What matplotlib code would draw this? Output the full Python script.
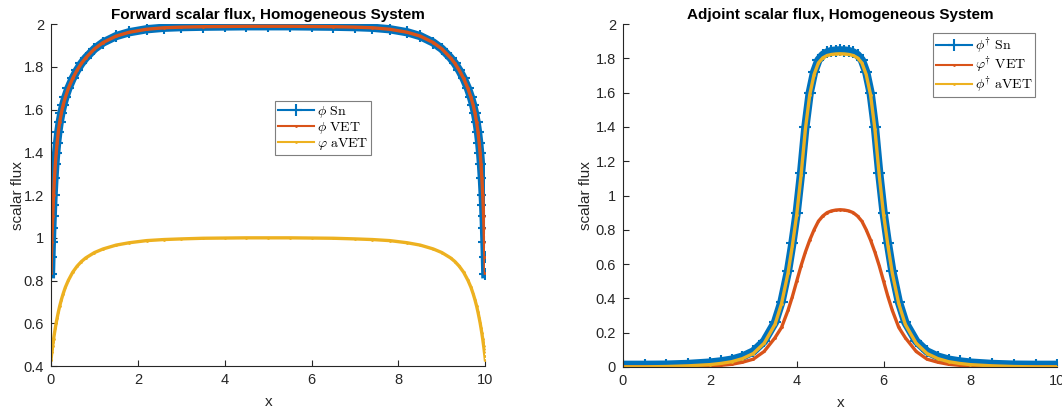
import matplotlib.pyplot as plt

plt.rcParams["font.family"] = ["Liberation Sans", "DejaVu Sans"]
plt.rcParams["mathtext.fontset"] = "cm"

# colours (MATLAB default order)
BLUE = "#0072BD"
RED = "#D95319"
YELLOW = "#EDB120"
AX_COL = "#262626"

# ---- forward problem -------------------------------------------------------
x_fwd = [0, 0.01, 0.02, 0.03, 0.04, 0.05, 0.06, 0.08, 0.1, 0.12, 0.14, 0.17,
         0.2, 0.24, 0.28, 0.33, 0.4, 0.5, 0.6, 0.7, 0.8, 1.0, 1.2, 1.5, 1.8,
         2.2, 2.6, 3.0, 3.5, 4.0, 4.5, 5.0, 5.5, 6.0, 6.5, 7.0, 7.4, 7.8, 8.2,
         8.5, 8.8, 9.0, 9.2, 9.3, 9.4, 9.5, 9.6, 9.67, 9.72, 9.76, 9.8, 9.83,
         9.86, 9.88, 9.9, 9.92, 9.94, 9.95, 9.96, 9.97, 9.98, 9.99, 10]
phi_sn = [0.83, 0.91, 0.981, 1.045, 1.102, 1.154, 1.200, 1.279, 1.344, 1.398,
          1.442, 1.497, 1.540, 1.585, 1.621, 1.657, 1.699, 1.746, 1.784, 1.816,
          1.842, 1.884, 1.914, 1.944, 1.962, 1.976, 1.983, 1.986, 1.988, 1.989,
          1.990, 1.990, 1.990, 1.989, 1.988, 1.986, 1.983, 1.976, 1.962, 1.944,
          1.914, 1.884, 1.842, 1.816, 1.784, 1.746, 1.699, 1.657, 1.621, 1.585,
          1.540, 1.497, 1.442, 1.398, 1.344, 1.279, 1.200, 1.154, 1.102, 1.045,
          0.981, 0.91, 0.83]
phi_vet = [0.835, 0.912, 0.982, 1.046, 1.103, 1.155, 1.200, 1.279, 1.344,
           1.398, 1.442, 1.497, 1.540, 1.585, 1.621, 1.657, 1.699, 1.746,
           1.784, 1.816, 1.842, 1.884, 1.914, 1.944, 1.962, 1.976, 1.983,
           1.986, 1.988, 1.989, 1.990, 1.990, 1.990, 1.989, 1.988, 1.986,
           1.983, 1.976, 1.962, 1.944, 1.914, 1.884, 1.842, 1.816, 1.784,
           1.746, 1.699, 1.657, 1.621, 1.585, 1.540, 1.497, 1.442, 1.398,
           1.344, 1.279, 1.200, 1.155, 1.103, 1.046, 0.982, 0.912, 0.835]
phi_avet = [0.43, 0.448, 0.464, 0.481, 0.496, 0.511, 0.526, 0.553, 0.578,
            0.602, 0.623, 0.653, 0.680, 0.711, 0.738, 0.768, 0.801, 0.839,
            0.867, 0.889, 0.906, 0.931, 0.948, 0.966, 0.977, 0.987, 0.992,
            0.995, 0.998, 0.999, 1.0, 1.0, 1.0, 0.999, 0.998, 0.995, 0.992,
            0.987, 0.977, 0.966, 0.948, 0.931, 0.906, 0.889, 0.867, 0.839,
            0.801, 0.768, 0.738, 0.711, 0.680, 0.653, 0.623, 0.602, 0.578,
            0.553, 0.526, 0.511, 0.496, 0.481, 0.464, 0.448, 0.43]

# ---- adjoint problem -------------------------------------------------------
x_adj = [0, 0.5, 1, 1.5, 2, 2.25, 2.5, 2.75, 3, 3.25, 3.5, 3.65, 3.8, 3.9,
         4.0, 4.1, 4.2, 4.3, 4.4, 4.5, 4.6, 4.7, 4.8, 4.9, 5.0, 5.1, 5.2, 5.3,
         5.4, 5.5, 5.6, 5.7, 5.8, 5.9, 6.0, 6.1, 6.2, 6.35, 6.5, 6.75, 7,
         7.25, 7.5, 7.75, 8, 8.5, 9, 9.5, 10]
adj_sn = [0.012, 0.012, 0.013, 0.017, 0.025, 0.032, 0.042, 0.06, 0.09, 0.15,
          0.26, 0.38, 0.56, 0.72, 0.90, 1.13, 1.40, 1.60, 1.72, 1.79, 1.82,
          1.835, 1.843, 1.846, 1.847, 1.846, 1.843, 1.835, 1.82, 1.79, 1.72,
          1.60, 1.40, 1.13, 0.90, 0.72, 0.56, 0.38, 0.26, 0.15, 0.09, 0.06,
          0.042, 0.032, 0.025, 0.017, 0.013, 0.012, 0.012]
adj_vet = [0.0, 0.0, 0.0005, 0.002, 0.005, 0.009, 0.015, 0.027, 0.045, 0.09,
           0.17, 0.23, 0.33, 0.41, 0.50, 0.59, 0.67, 0.74, 0.80, 0.85, 0.88,
           0.90, 0.91, 0.915, 0.917, 0.915, 0.91, 0.90, 0.88, 0.85, 0.80,
           0.74, 0.67, 0.59, 0.50, 0.41, 0.33, 0.23, 0.17, 0.09, 0.045, 0.027,
           0.015, 0.009, 0.005, 0.002, 0.0005, 0.0, 0.0]
adj_avet = [0.0, 0.0, 0.002, 0.006, 0.013, 0.02, 0.03, 0.048, 0.078, 0.138,
            0.248, 0.368, 0.548, 0.708, 0.888, 1.118, 1.388, 1.588, 1.706,
            1.774, 1.803, 1.817, 1.823, 1.826, 1.827, 1.826, 1.823, 1.817,
            1.803, 1.774, 1.706, 1.588, 1.388, 1.118, 0.888, 0.708, 0.548,
            0.368, 0.248, 0.138, 0.078, 0.048, 0.03, 0.02, 0.013, 0.006,
            0.002, 0.0, 0.0]

fig = plt.figure(figsize=(10.62, 4.09), dpi=100)
ax1 = fig.add_axes([0.048, 0.105, 0.409, 0.836])
ax2 = fig.add_axes([0.5866, 0.103, 0.409, 0.838])


def style(ax, title, ylim, yticks, ypad):
    ax.set_xlim(0, 10)
    ax.set_ylim(*ylim)
    ax.set_xticks([0, 2, 4, 6, 8, 10])
    ax.set_yticks(yticks)
    ax.set_yticklabels([f"{t:g}" for t in yticks])
    for side in ("top", "right"):
        ax.spines[side].set_visible(False)
    for side in ("left", "bottom"):
        ax.spines[side].set_color(AX_COL)
        ax.spines[side].set_linewidth(0.8)
    ax.tick_params(direction="in", length=4, width=0.8, colors=AX_COL,
                   labelsize=10.5, pad=5)
    ax.set_xlabel("x", fontsize=11, color=AX_COL, labelpad=6)
    ax.set_ylabel("scalar flux", fontsize=11, color=AX_COL, labelpad=ypad)
    ax.set_title(title, fontsize=11, fontweight="bold", color="black", pad=4)


# forward
ax1.plot(x_fwd, phi_sn, color=BLUE, lw=6, marker="+", ms=9, mew=1.5,
         label=r"$\phi\ \mathrm{Sn}$")
ax1.plot(x_fwd, phi_vet, color=RED, lw=2.4, marker=".", ms=2,
         label=r"$\phi\ \mathrm{VET}$")
ax1.plot(x_fwd, phi_avet, color=YELLOW, lw=2.4, marker=".", ms=2,
         label=r"$\varphi\ \mathrm{aVET}$")
style(ax1, "Forward scalar flux, Homogeneous System", (0.4, 2),
      [0.4, 0.6, 0.8, 1, 1.2, 1.4, 1.6, 1.8, 2], -1)

# adjoint
ax2.plot(x_adj, adj_sn, color=BLUE, lw=6, marker="+", ms=9, mew=1.5,
         label=r"$\phi^{\dagger}\ \mathrm{Sn}$")
ax2.plot(x_adj, adj_vet, color=RED, lw=2.4, marker=".", ms=2,
         label=r"$\varphi^{\dagger}\ \mathrm{VET}$")
ax2.plot(x_adj, adj_avet, color=YELLOW, lw=2.4, marker=".", ms=2,
         label=r"$\phi^{\dagger}\ \mathrm{aVET}$")
style(ax2, "Adjoint scalar flux, Homogeneous System", (0, 2),
      [0, 0.2, 0.4, 0.6, 0.8, 1, 1.2, 1.4, 1.6, 1.8, 2], 2)

for ax, anchor in ((ax1, (0.516, 0.775)), (ax2, (0.714, 0.974))):
    leg = ax.legend(loc="upper left", bbox_to_anchor=anchor, fontsize=10,
                    handlelength=2.6, handletextpad=0.2, borderpad=0.2,
                    labelspacing=0.0, borderaxespad=0, fancybox=False,
                    framealpha=1, edgecolor="#7f7f7f")
    leg.get_frame().set_linewidth(0.8)
    for h in leg.get_lines():
        h.set_linewidth(1.5)

fig.savefig("out.png", dpi=100)
